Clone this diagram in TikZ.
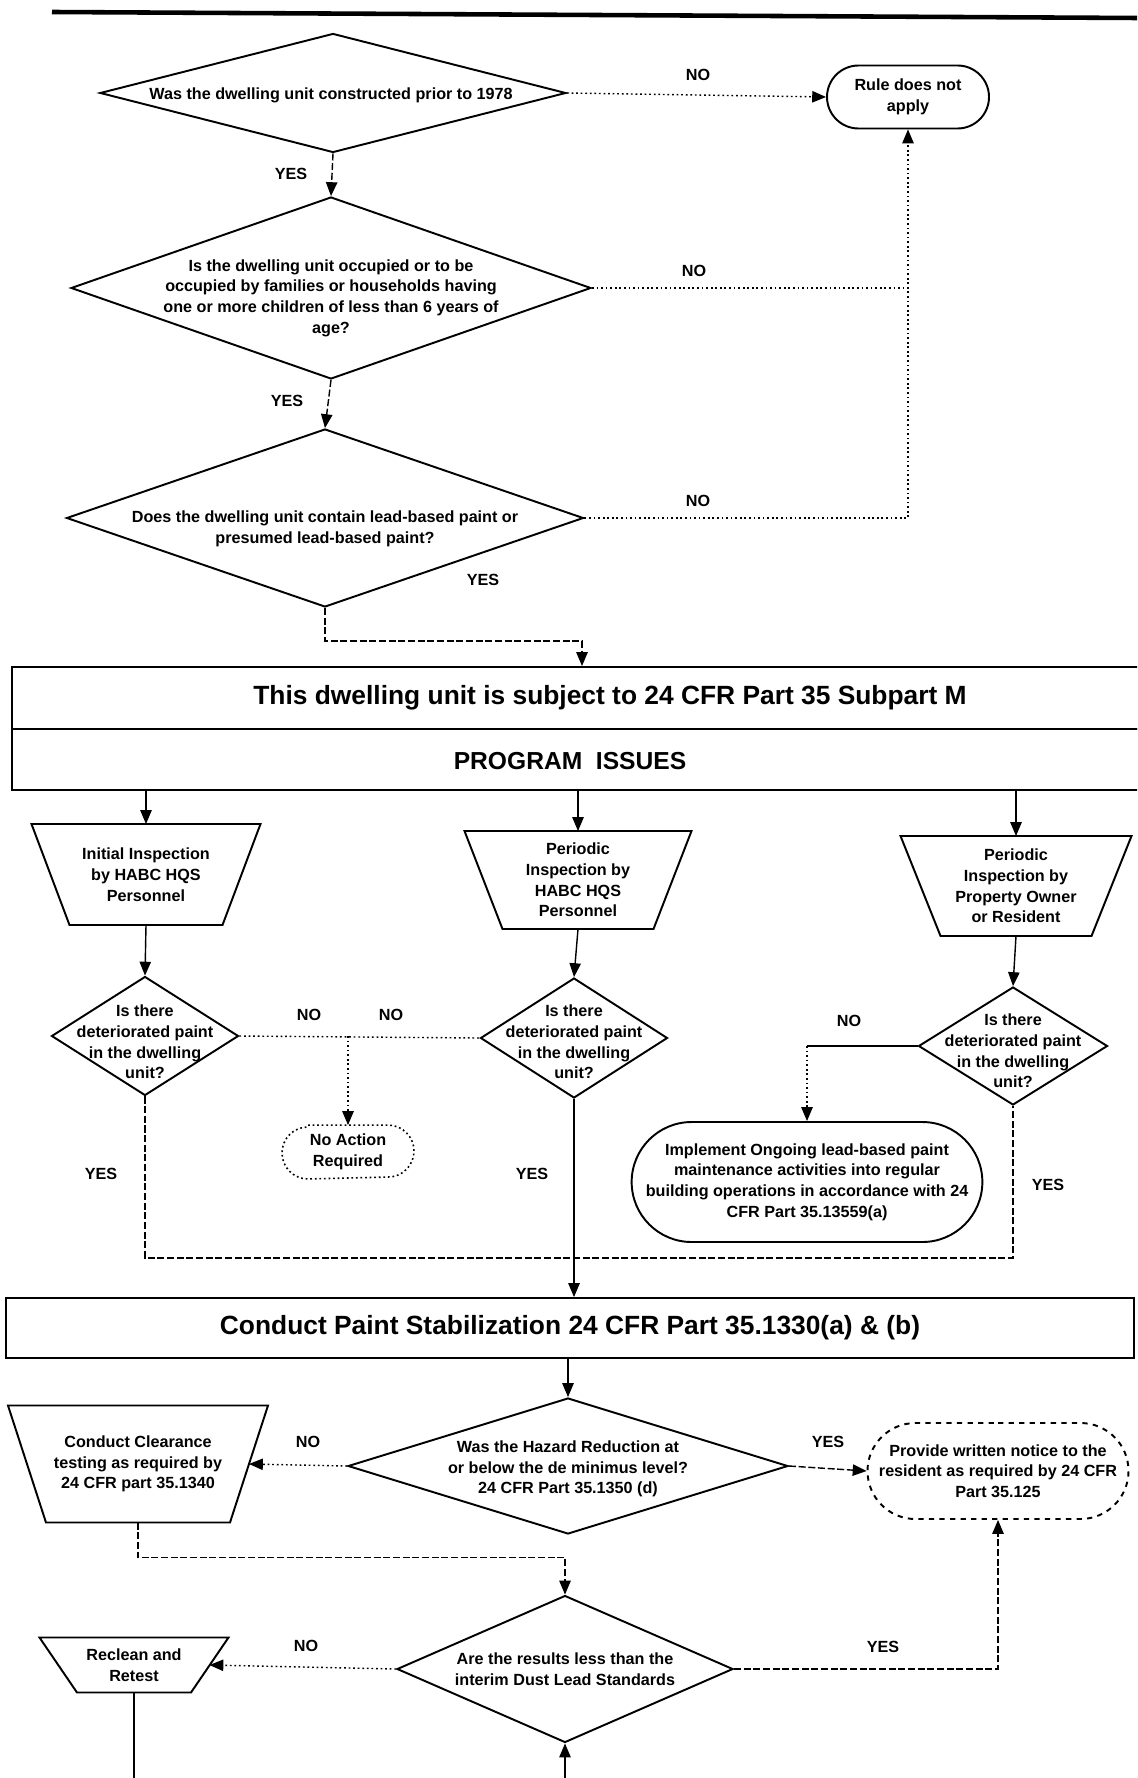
\documentclass[tikz,border=0pt]{standalone}
\usepackage{fontspec}
\setmainfont{Liberation Sans}
\usetikzlibrary{arrows, calc, positioning, shapes.geometric, shapes.misc}

\newcommand{\px}{0.2mm}

\begin{document}
\begin{tikzpicture}[x=0.2mm, y=-0.2mm,
	outline/.style={draw, line width=1.1pt},
	qbox/.style={outline, diamond, inner sep=0pt},
	qtext/.style={align=center, inner sep=0pt, font=\fontsize{9.2}{11.8}\selectfont\bfseries},
	endbox/.style={outline, rounded rectangle, inner sep=0pt, align=center, font=\fontsize{9.2}{11.8}\selectfont\bfseries},
	trapbox/.style={inner sep=0pt, outer sep=0pt, align=center, font=\fontsize{9.2}{11.8}\selectfont\bfseries},
	headbox/.style={outline, rectangle, inner sep=0pt, font=\fontsize{15}{18}\selectfont\bfseries},
	lbl/.style={font=\fontsize{9.2}{11}\selectfont\bfseries},
	flow/.style={line width=0.8pt},
	noline/.style={flow, dash pattern=on 1pt off 1.6pt},
	yesline/.style={flow, dash pattern=on 4pt off 1.5pt},
	arr/.style={-triangle 45}]
	\useasboundingbox (0,0) rectangle (1137,1778);
	\clip (0,0) rectangle (1137,1778);
	\draw [line width=2.6pt] (52,12) -- (1137,18);

	% eligibility questions
	\node [qbox, minimum width=466*\px, minimum height=119*\px] (d1) at (333,93) {};
	\node [qtext] at (331,95) {Was the dwelling unit constructed prior to 1978};
	\node [endbox, minimum width=162*\px, minimum height=63*\px] (rule) at (908,97) {Rule does not\\apply};
	\node [qbox, minimum width=520*\px, minimum height=182*\px] (d2) at (331,288) {};
	\node [qtext] at (331,298) {Is the dwelling unit occupied or to be\\occupied by families or households having\\one or more children of less than 6 years of\\age?};
	\node [qbox, minimum width=517*\px, minimum height=178*\px] (d3) at (325,518) {};
	\node [qtext] at (325,529) {Does the dwelling unit contain lead-based paint or\\presumed lead-based paint?};

	\draw [noline, arr] (d1.east) -- (rule.west);
	\draw [yesline, arr] (d1.south) -- (d2.north);
	\draw [noline] (d2.east) -- (d2.east -| rule.south);
	\draw [yesline, arr] (d2.south) -- (d3.north);
	\draw [noline, arr] (d3.east) -- (d3.east -| rule.south) -- (rule.south);
	\path (698,75) node [lbl] {NO};
	\path (291,174) node [lbl] {YES};
	\path (694,271) node [lbl] {NO};
	\path (287,401) node [lbl] {YES};
	\path (698,501) node [lbl] {NO};
	\path (483,580) node [lbl] {YES};

	% program issues
	\node [headbox, minimum width=1196*\px, minimum height=62*\px] (subj) at (610,698) {This dwelling unit is subject to 24 CFR Part 35 Subpart M};
	\node [headbox, minimum width=1196*\px, minimum height=61*\px] (prog) at (610,759.5) {};
	\node [lbl, font=\fontsize{14}{16}\selectfont\bfseries] at (570,761) {PROGRAM\ \ ISSUES};
	\draw [yesline, arr] (d3.south) -- ++(0,33) -| ($(subj.north)+(-28,0)$);

	\node [trapbox, minimum width=229*\px, minimum height=101*\px] (t1) at (146,874.5) {Initial Inspection\\by HABC HQS\\Personnel};
	\node [trapbox, minimum width=227*\px, minimum height=98*\px] (t2) at (578,880) {Periodic\\Inspection by\\HABC HQS\\Personnel};
	\node [trapbox, minimum width=231*\px, minimum height=100*\px] (t3) at (1016,886) {Periodic\\Inspection by\\Property Owner\\or Resident};
	\draw [outline] (t1.north west) -- (t1.north east) -- ($(t1.south east)+(-38,0)$) -- ($(t1.south west)+(38,0)$) -- cycle;
	\draw [outline] (t2.north west) -- (t2.north east) -- ($(t2.south east)+(-38,0)$) -- ($(t2.south west)+(38,0)$) -- cycle;
	\draw [outline] (t3.north west) -- (t3.north east) -- ($(t3.south east)+(-40,0)$) -- ($(t3.south west)+(40,0)$) -- cycle;
	\draw [flow, arr] (prog.south -| t1.north) -- (t1.north);
	\draw [flow, arr] (prog.south -| t2.north) -- (t2.north);
	\draw [flow, arr] (prog.south -| t3.north) -- (t3.north);

	\node [qbox, minimum width=187*\px, minimum height=119*\px] (s1) at (145,1036) {};
	\node [qtext] at (145,1042) {Is there\\deteriorated paint\\in the dwelling\\unit?};
	\node [qbox, minimum width=187*\px, minimum height=120*\px] (s2) at (574,1038) {};
	\node [qtext] at (574,1042) {Is there\\deteriorated paint\\in the dwelling\\unit?};
	\node [qbox, minimum width=189*\px, minimum height=118*\px] (s3) at (1013,1046) {};
	\node [qtext] at (1013,1051) {Is there\\deteriorated paint\\in the dwelling\\unit?};
	\draw [flow, arr] (t1.south) -- (s1.north);
	\draw [flow, arr] (t2.south) -- (s2.north);
	\draw [flow, arr] (t3.south) -- (s3.north);

	\node [endbox, draw=none, minimum width=132*\px, minimum height=52*\px] (noact) at (348,1152) {No Action\\Required};
	\draw [noline, line width=0.9pt] (noact.north west) -- (noact.north east) arc (90:-90:26*\px) -- (noact.south west) arc (270:90:26*\px);
	\node [endbox, minimum width=337*\px, minimum height=120*\px] (maint) at (807,1182) {Implement Ongoing lead-based paint\\maintenance activities into regular\\building operations in accordance with 24\\CFR Part 35.13559(a)};
	\draw [noline] (s1.east) -- (s2.west);
	\draw [noline, arr] (s1.east -| noact.north) -- (noact.north);
	\draw [flow] (s3.west) -- (s3.west -| maint.north);
	\draw [noline, arr] (s3.west -| maint.north) -- (maint.north);
	\path (309,1015) node [lbl] {NO};
	\path (391,1015) node [lbl] {NO};
	\path (849,1021) node [lbl] {NO};
	\path (101,1174) node [lbl] {YES};
	\path (532,1174) node [lbl] {YES};
	\path (1048,1185) node [lbl] {YES};

	% stabilization and clearance
	\node [headbox, minimum width=1128*\px, minimum height=60*\px] (stab) at (570,1328) {Conduct Paint Stabilization 24 CFR Part 35.1330(a) \& (b)};
	\coordinate (mrg) at (574,1258);
	\draw [yesline] (s1.south) |- (mrg) -| (s3.south);
	\draw [flow, arr] (s2.south) -- (s2.south |- stab.north);

	\node [qbox, minimum width=440*\px, minimum height=136*\px] (d4) at (568,1466) {};
	\node [qtext] at (568,1469) {Was the Hazard Reduction at\\or below the de minimus level?\\24 CFR Part 35.1350 (d)};
	\node [trapbox, minimum width=260*\px, minimum height=117*\px] (clear) at (138,1464) {Conduct Clearance\\testing as required by\\24 CFR part 35.1340};
	\draw [outline] (clear.north west) -- (clear.north east) -- ($(clear.south east)+(-38,0)$) -- ($(clear.south west)+(38,0)$) -- cycle;
	\node [endbox, dashed, minimum width=261*\px, minimum height=96*\px] (notice) at (998,1471) {Provide written notice to the\\resident as required by 24 CFR\\Part 35.125};
	\draw [flow, arr] (stab.south -| d4.north) -- (d4.north);
	\draw [noline, arr] (d4.west) -- ($(clear.east)+(-19,0)$);
	\draw [yesline, arr] (d4.east) -- (notice.west);
	\path (308,1442) node [lbl] {NO};
	\path (828,1442) node [lbl] {YES};

	\node [qbox, minimum width=336*\px, minimum height=147*\px] (d5) at (565,1669) {};
	\node [qtext] at (565,1669) {Are the results less than the\\interim Dust Lead Standards};
	\node [trapbox, minimum width=189*\px, minimum height=55*\px] (retest) at (134,1665) {Reclean and\\Retest};
	\draw [outline] (retest.north west) -- (retest.north east) -- ($(retest.south east)+(-37.5,0)$) -- ($(retest.south west)+(37.5,0)$) -- cycle;
	\draw [yesline, arr] (clear.south) -- ++(0,35) -| (d5.north);
	\draw [noline, arr] (d5.west) -- ($(retest.east)+(-19,0)$);
	\draw [yesline, arr] (d5.east) -| (notice.south);
	\draw [flow] (retest.south) -- ++(0,100);
	\draw [flow, arr] ($(d5.south)+(0,60)$) -- (d5.south);
	\path (306,1646) node [lbl] {NO};
	\path (883,1647) node [lbl] {YES};
\end{tikzpicture}
\end{document}
